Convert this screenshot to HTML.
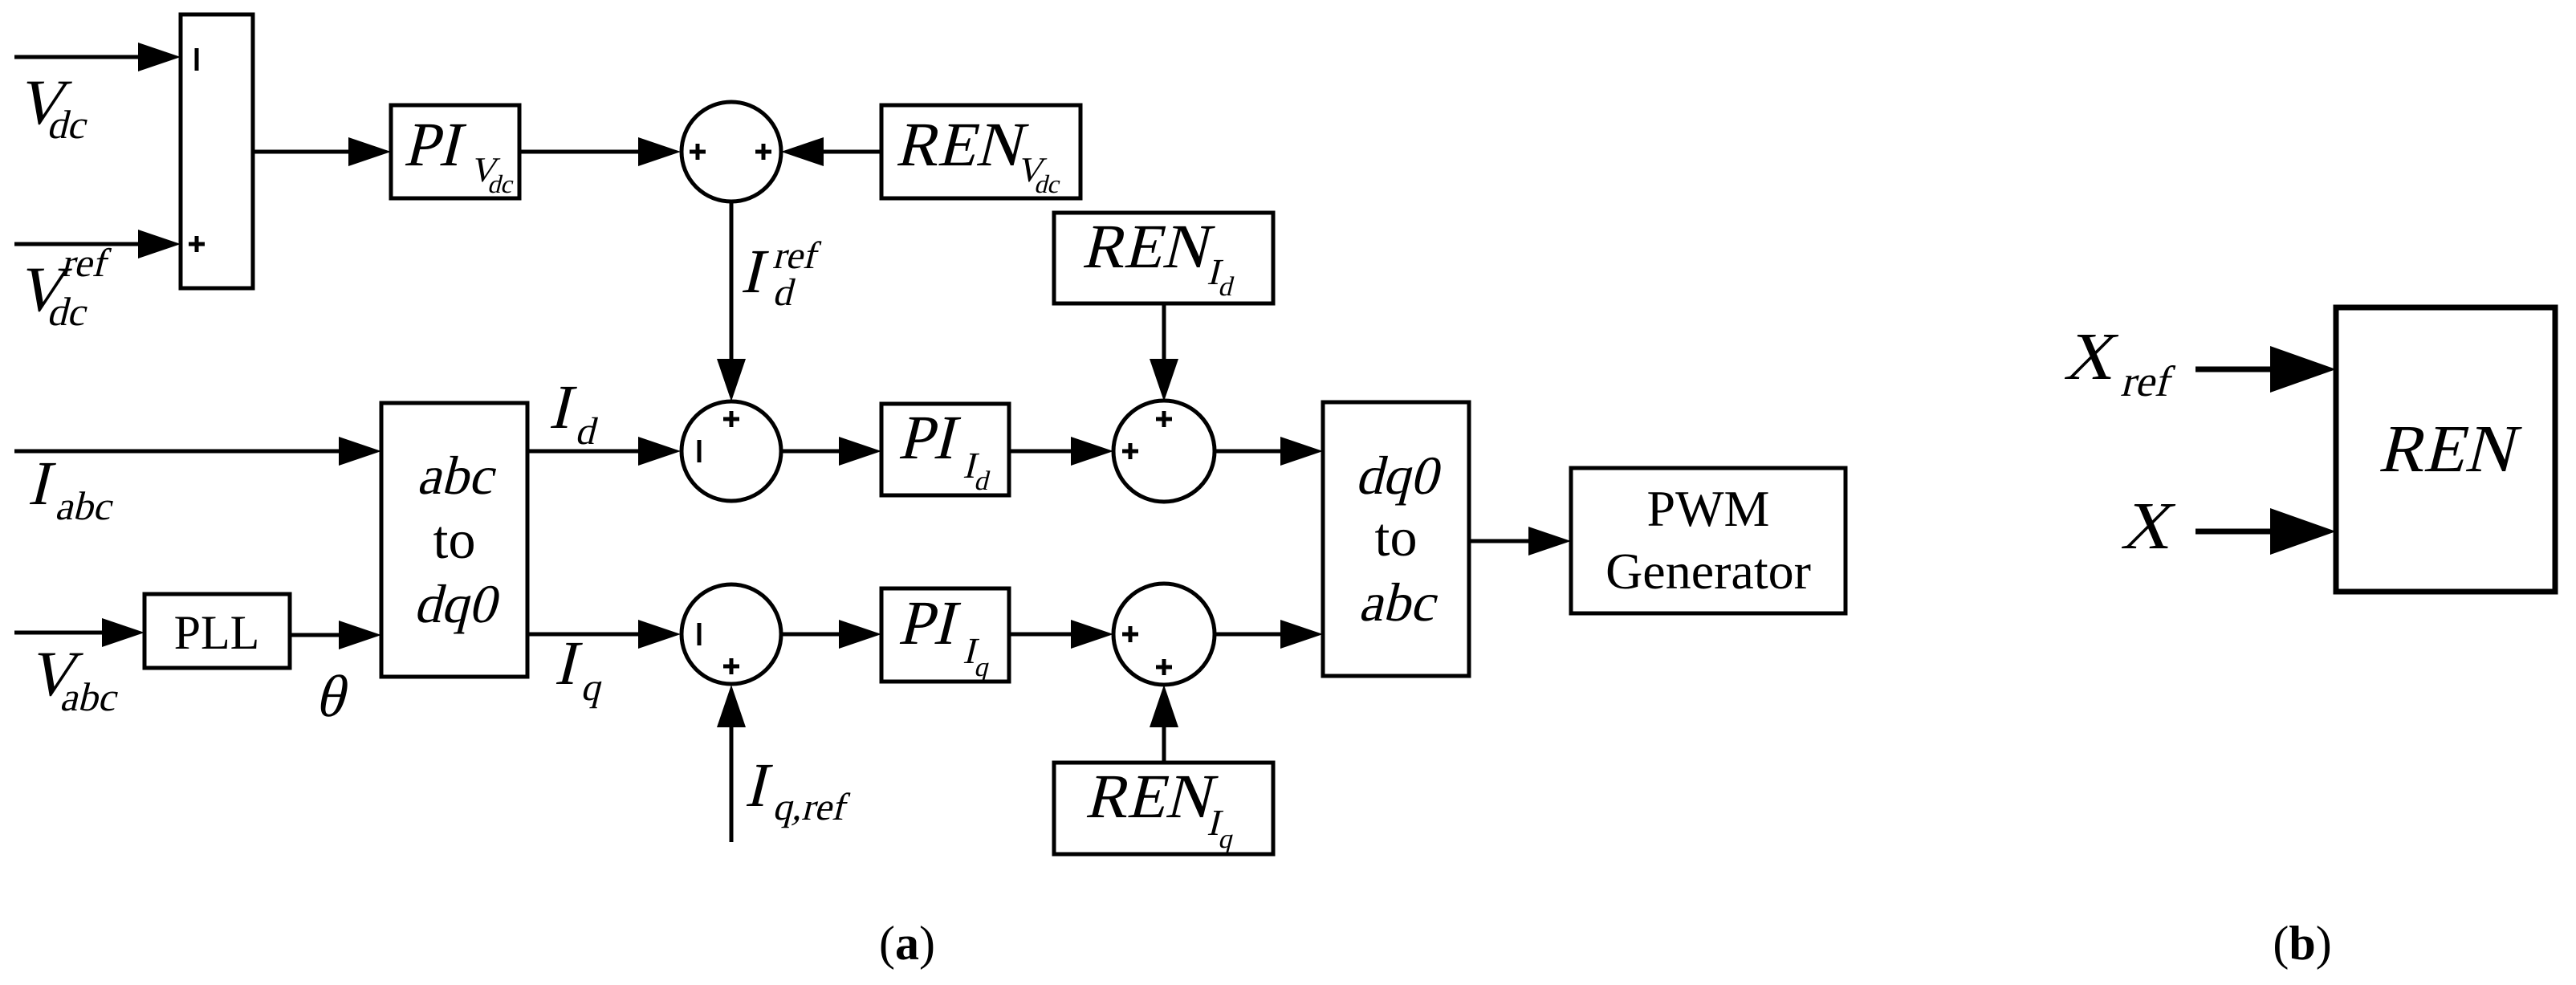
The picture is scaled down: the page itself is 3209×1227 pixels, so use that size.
<!DOCTYPE html>
<html><head><meta charset="utf-8"><style>
html,body{margin:0;padding:0;background:#fff;}
svg{display:block;}
svg text{font-family:"Liberation Serif","Times New Roman","DejaVu Serif",serif;fill:#000;font-style:normal;}
</style></head><body>
<svg width="3209" height="1227" viewBox="0 0 3209 1227" xmlns="http://www.w3.org/2000/svg">
<g fill="none" stroke="#000" stroke-width="5">
<rect x="225" y="18" width="90" height="341"/>
<rect x="487" y="131" width="160" height="116"/>
<rect x="1098" y="131" width="248" height="116"/>
<rect x="1313" y="265" width="273" height="113"/>
<rect x="475" y="502" width="182" height="341"/>
<rect x="180" y="740" width="181" height="92"/>
<rect x="1098" y="503" width="159" height="114"/>
<rect x="1098" y="733" width="159" height="116"/>
<rect x="1648" y="501" width="182" height="341"/>
<rect x="1957" y="583" width="342" height="181"/>
<rect x="1313" y="950" width="273" height="114"/>
<circle cx="911" cy="189" r="62"/>
<circle cx="911" cy="562" r="62"/>
<circle cx="911" cy="790" r="62"/>
<circle cx="1450" cy="562" r="63"/>
<circle cx="1450" cy="790" r="63"/>
<path d="M18 71H175M18 304H175M316 189H440M647 189H800M1098 189H1020M911 251V450M18 562H425M657 562H800M973 562H1050M1257 562H1340M1513 562H1600M18 788H135M361 791H425M657 790H800M973 790H1050M1257 790H1340M1513 790H1600M1830 674H1910M1450 378V452M1450 949V900M911 1049V900"/>
<rect x="2910" y="383" width="273" height="354" stroke-width="7"/>
<path d="M2735 460H2835M2735 662H2835" stroke-width="7"/>
</g>
<g fill="#000">
<polygon points="172,53 225,71 172,89"/>
<polygon points="172,286 225,304 172,322"/>
<polygon points="434,171 487,189 434,207"/>
<polygon points="795,171 848,189 795,207"/>
<polygon points="1026,171 973,189 1026,207"/>
<polygon points="893,447 911,500 929,447"/>
<polygon points="422,544 475,562 422,580"/>
<polygon points="795,544 848,562 795,580"/>
<polygon points="1045,544 1098,562 1045,580"/>
<polygon points="1334,544 1387,562 1334,580"/>
<polygon points="1595,544 1648,562 1595,580"/>
<polygon points="127,770 180,788 127,806"/>
<polygon points="422,773 475,791 422,809"/>
<polygon points="795,772 848,790 795,808"/>
<polygon points="1045,772 1098,790 1045,808"/>
<polygon points="1334,772 1387,790 1334,808"/>
<polygon points="1595,772 1648,790 1595,808"/>
<polygon points="1904,656 1957,674 1904,692"/>
<polygon points="1432,447 1450,500 1468,447"/>
<polygon points="1432,906 1450,853 1468,906"/>
<polygon points="893,906 911,853 929,906"/>
<polygon points="2828,431 2910,460 2828,489"/>
<polygon points="2828,633 2910,662 2828,691"/>
</g>
<g stroke="#000" stroke-width="5" fill="none">
<path d="M245 60V88M235 304H255M245 294V314"/>
<path d="M859 189H879M869 179V199M941 189H961M951 179V199"/>
<path d="M901 522H921M911 512V532M871 548V576"/>
<path d="M871 776V804M901 830H921M911 820V840"/>
<path d="M1440 522H1460M1450 512V532M1398 562H1418M1408 552V572"/>
<path d="M1398 790H1418M1408 780V800M1440 831H1460M1450 821V841"/>
</g>
<g transform="translate(20,154) skewX(-14)"><text font-size="80">V</text></g>
<g transform="translate(58,172) skewX(-14)"><text font-size="50">dc</text></g>
<g transform="translate(20,387) skewX(-14)"><text font-size="80">V</text></g>
<g transform="translate(75,344) skewX(-14)"><text font-size="50">ref</text></g>
<g transform="translate(58,405) skewX(-14)"><text font-size="50">dc</text></g>
<g transform="translate(502,206) skewX(-14)"><text font-size="78">PI</text></g>
<g transform="translate(585,226) skewX(-14)"><text font-size="44">V</text></g>
<g transform="translate(607,240) skewX(-14)"><text font-size="32">dc</text></g>
<g transform="translate(1115,206) skewX(-14)"><text font-size="78">REN</text></g>
<g transform="translate(1266,226) skewX(-14)"><text font-size="44">V</text></g>
<g transform="translate(1288,240) skewX(-14)"><text font-size="32">dc</text></g>
<g transform="translate(922,364) skewX(-14)"><text font-size="78">I</text></g>
<g transform="translate(962,334) skewX(-14)"><text font-size="48">ref</text></g>
<g transform="translate(962,380) skewX(-14)"><text font-size="48">d</text></g>
<g transform="translate(1347,333) skewX(-14)"><text font-size="78">REN</text></g>
<g transform="translate(1503,354) skewX(-14)"><text font-size="46">I</text></g>
<g transform="translate(1517,368) skewX(-14)"><text font-size="34">d</text></g>
<g transform="translate(683,533) skewX(-14)"><text font-size="78">I</text></g>
<g transform="translate(716,553) skewX(-14)"><text font-size="48">d</text></g>
<g transform="translate(34,628) skewX(-14)"><text font-size="78">I</text></g>
<g transform="translate(68,647) skewX(-14)"><text font-size="50">abc</text></g>
<g transform="translate(566,615) skewX(-14)"><text font-size="68" text-anchor="middle">abc</text></g>
<text x="566" y="695" font-size="68" text-anchor="middle">to</text>
<g transform="translate(566,775) skewX(-14)"><text font-size="68" text-anchor="middle">dq0</text></g>
<g transform="translate(1118,571) skewX(-14)"><text font-size="78">PI</text></g>
<g transform="translate(1199,595) skewX(-14)"><text font-size="46">I</text></g>
<g transform="translate(1213,610) skewX(-14)"><text font-size="34">d</text></g>
<g transform="translate(1118,802) skewX(-14)"><text font-size="78">PI</text></g>
<g transform="translate(1199,826) skewX(-14)"><text font-size="46">I</text></g>
<g transform="translate(1213,842) skewX(-14)"><text font-size="34">q</text></g>
<g transform="translate(1739,615) skewX(-14)"><text font-size="68" text-anchor="middle">dq0</text></g>
<text x="1739" y="692" font-size="68" text-anchor="middle">to</text>
<g transform="translate(1739,773) skewX(-14)"><text font-size="68" text-anchor="middle">abc</text></g>
<text x="2128" y="655" font-size="64" text-anchor="middle">PWM</text>
<text x="2128" y="733" font-size="64" text-anchor="middle">Generator</text>
<text x="270" y="808" font-size="60" text-anchor="middle">PLL</text>
<g transform="translate(34,866) skewX(-14)"><text font-size="80">V</text></g>
<g transform="translate(74,885) skewX(-14)"><text font-size="50">abc</text></g>
<g transform="translate(392,892) skewX(-14)"><text font-size="74">θ</text></g>
<g transform="translate(690,852) skewX(-14)"><text font-size="78">I</text></g>
<g transform="translate(723,872) skewX(-14)"><text font-size="48">q</text></g>
<g transform="translate(927,1004) skewX(-14)"><text font-size="78">I</text></g>
<g transform="translate(962,1021) skewX(-14)"><text font-size="48">q,ref</text></g>
<g transform="translate(1351,1018) skewX(-14)"><text font-size="78">REN</text></g>
<g transform="translate(1503,1040) skewX(-14)"><text font-size="46">I</text></g>
<g transform="translate(1517,1056) skewX(-14)"><text font-size="34">q</text></g>
<text x="1130" y="1195" font-size="60" text-anchor="middle">(<tspan font-weight="bold">a</tspan>)</text>
<text x="2868" y="1195" font-size="60" text-anchor="middle">(<tspan font-weight="bold">b</tspan>)</text>
<g transform="translate(2570,472) skewX(-14)"><text font-size="84">X</text></g>
<g transform="translate(2641,493) skewX(-14)"><text font-size="54">ref</text></g>
<g transform="translate(2641,683) skewX(-14)"><text font-size="84">X</text></g>
<g transform="translate(3046,587) skewX(-14)"><text font-size="84" text-anchor="middle">REN</text></g>
</svg>
</body></html>
